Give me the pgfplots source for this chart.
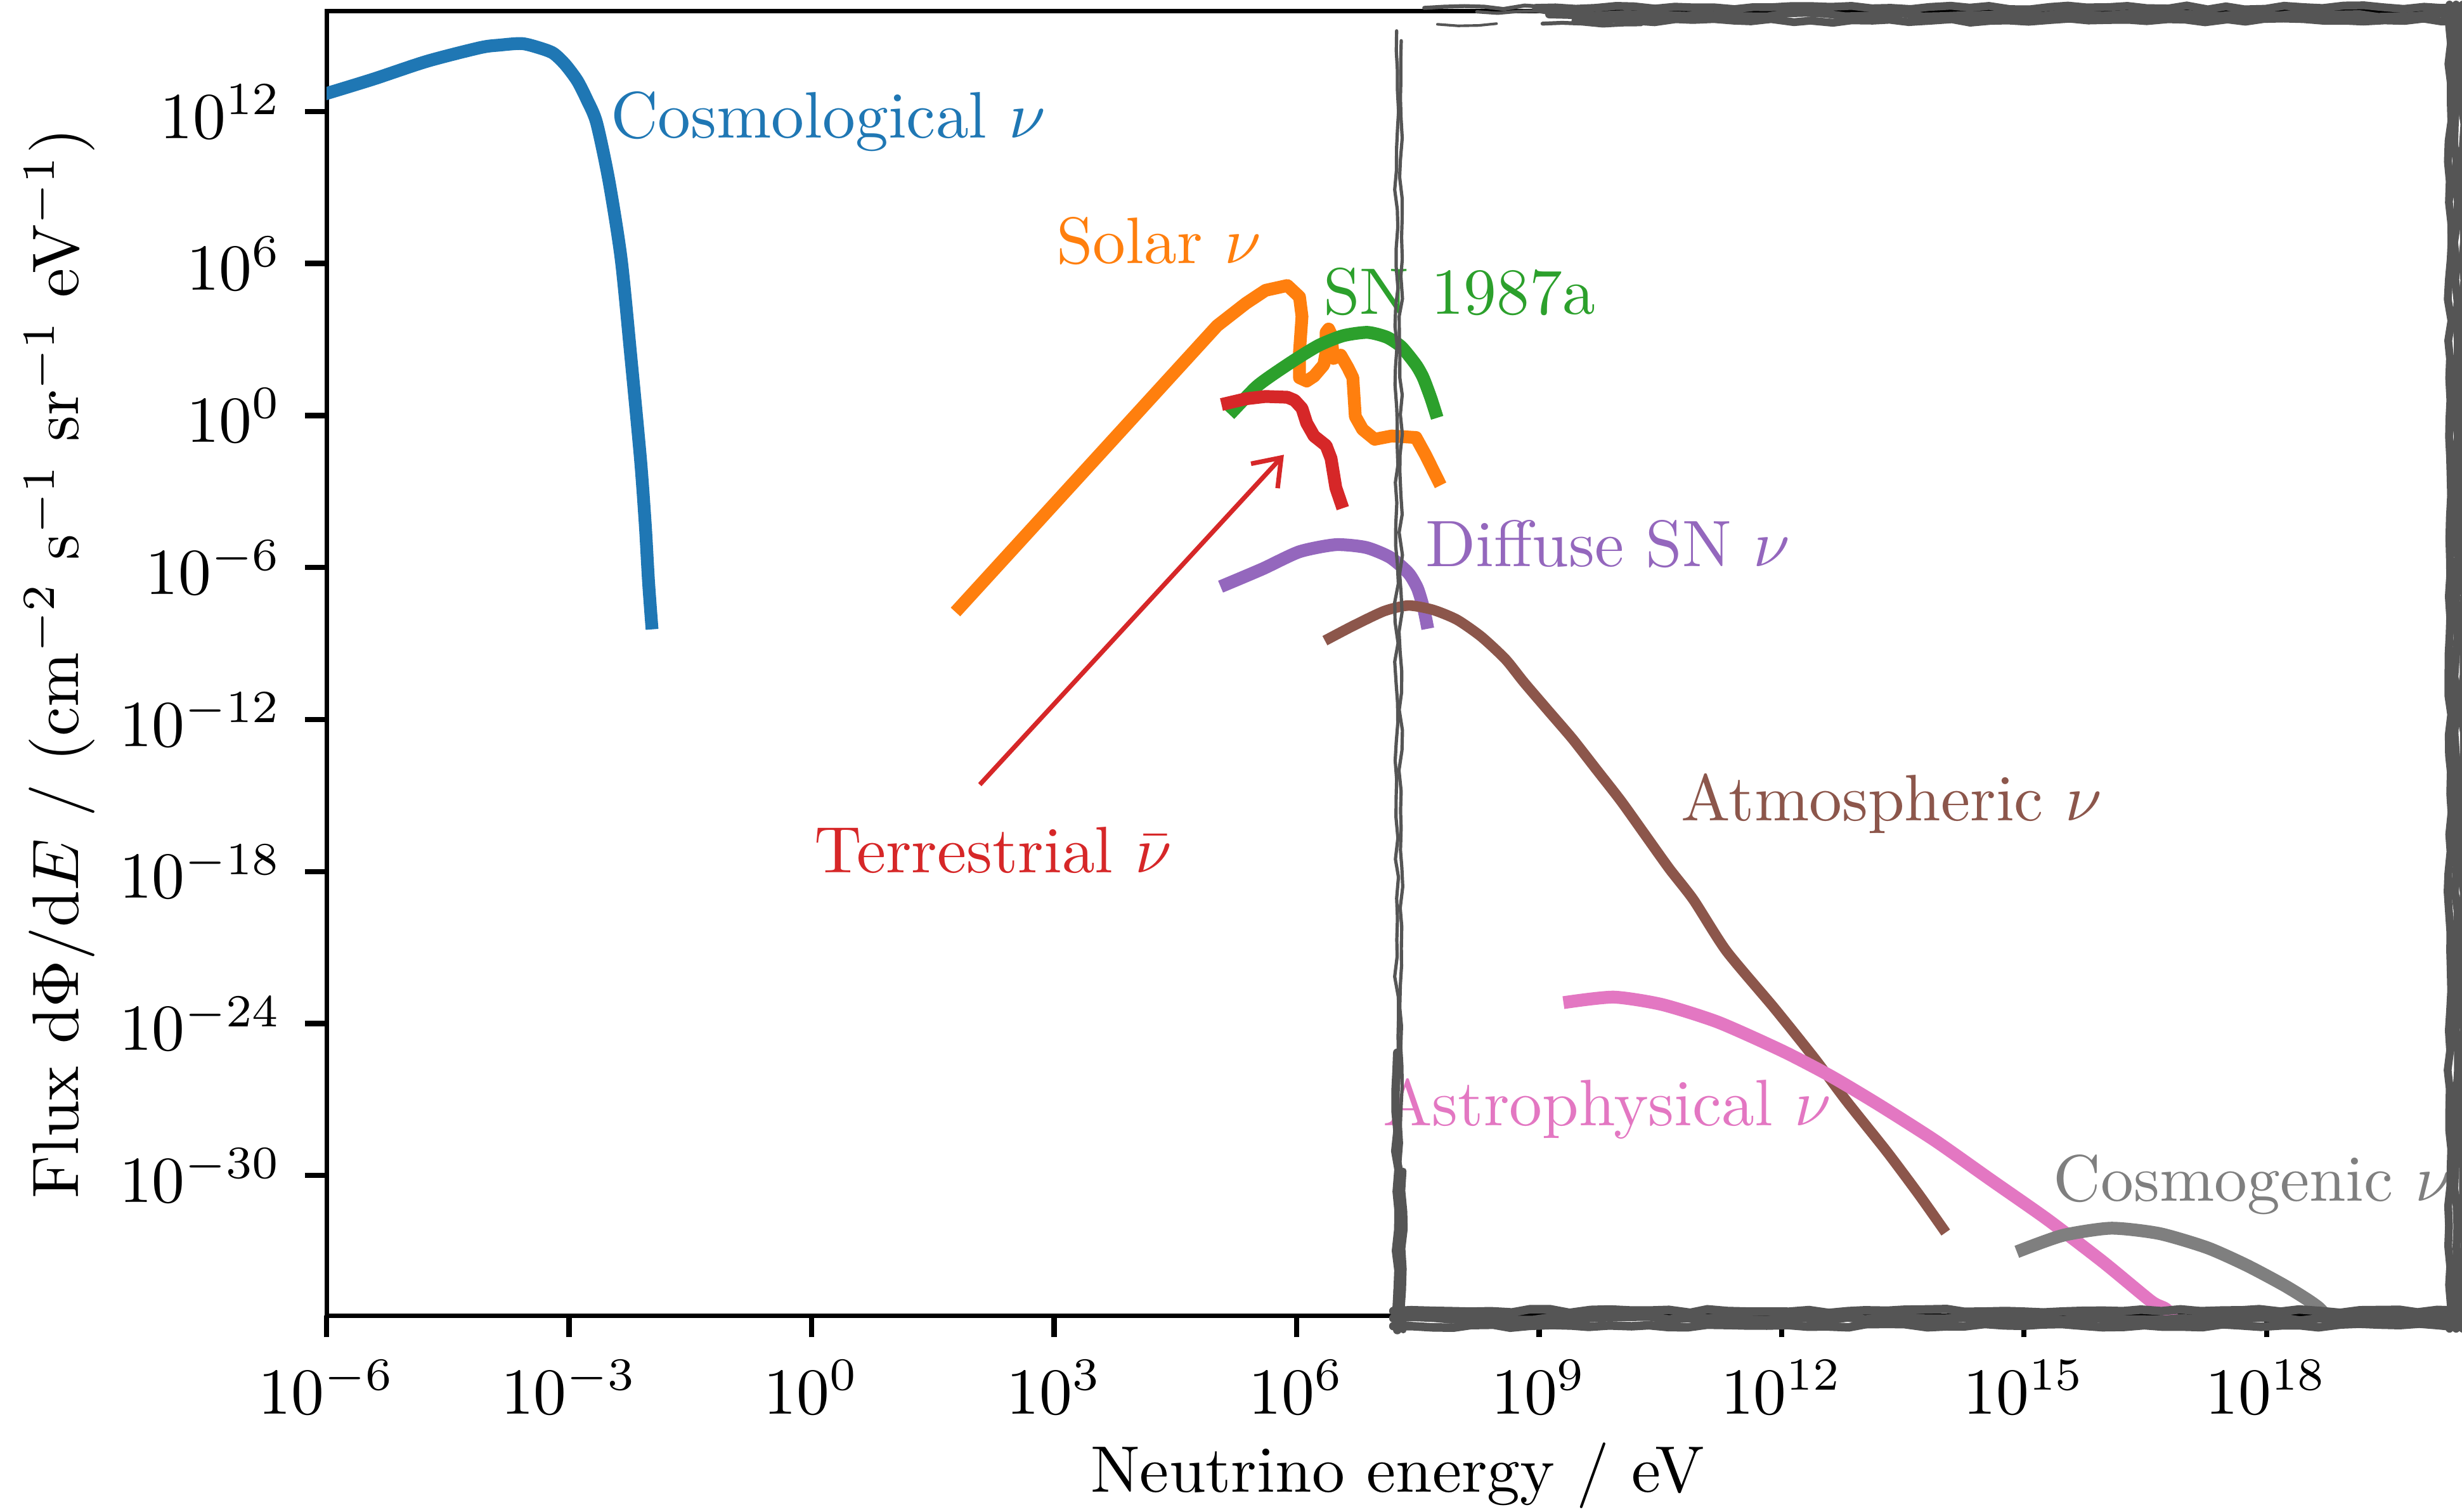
\documentclass[border=0pt]{standalone}
\usepackage{pgfplots}
\pgfplotsset{compat=1.18}
\usetikzlibrary{arrows.meta,decorations.pathmorphing}
\definecolor{c0}{HTML}{1F77B4}
\definecolor{c1}{HTML}{FF7F0E}
\definecolor{c2}{HTML}{2CA02C}
\definecolor{c3}{HTML}{D62728}
\definecolor{c4}{HTML}{9467BD}
\definecolor{c5}{HTML}{8C564B}
\definecolor{c6}{HTML}{E377C2}
\definecolor{c7}{HTML}{7F7F7F}
\definecolor{boxgray}{HTML}{555555}
\begin{document}
\begin{tikzpicture}
\pgfmathsetseed{7}
\begin{axis}[
  scale only axis, width=325.9pt, height=198.5pt,
  xmode=log, ymode=log,
  xmin=1e-6, xmax=3.162e20, ymin=2.95e-36, ymax=9.1e15,
  xtick={1e-6,1e-3,1,1e3,1e6,1e9,1e12,1e15,1e18},
  ytick={1e-30,1e-24,1e-18,1e-12,1e-6,1,1e6,1e12},
  xminorticks=false, yminorticks=false,
  tick align=outside, xtick pos=left, ytick pos=left,
  major tick length=3.3pt,
  every tick/.style={black, line width=0.8pt},
  axis line style={line width=0.7pt},
  xlabel={Neutrino energy / eV},
  ylabel={Flux $\mathrm{d}\Phi/\mathrm{d}E$ / (cm$^{-2}$ s$^{-1}$ sr$^{-1}$ eV$^{-1}$)},
  xlabel style={at={(axis description cs:0.5,-0.1224)}, anchor=center},
  ylabel style={at={(axis description cs:-0.1246,0.5)}, anchor=center},
  clip mode=individual,
  every axis plot/.append style={line width=1.95pt, line cap=rect, line join=round, mark=none},
]
% Cosmological
\addplot[c0, smooth, tension=0.45] coordinates {
(1e-6,5.13e12) (3.81e-6,1.905e13) (1.742e-5,9.55e13) (7.98e-5,3.31e14)
(1.39e-4,4.17e14) (2.59e-4,4.79e14) (4.19e-4,3.31e14) (6.35e-4,2.0e14)
(8.97e-4,7.08e13) (1.265e-3,1.62e13) (1.67e-3,2.82e12) (2.19e-3,3.55e11)
(3.11e-3,1.82e9) (4.40e-3,1.55e6) (5.79e-3,2.29e2) (7.64e-3,1.905e-2)
(8.77e-3,4.47e-5) (9.59e-3,3.02e-7) (1.047e-2,6.46e-9)};
% Solar
\addplot[c1] coordinates {
(68.2,2.69e-8) (1.04e5,3.47e3) (2.37e5,2.69e4) (4.13e5,8.71e4) (7.69e5,1.35e5)
(1.087e6,4.79e4) (1.167e6,8.13e3) (1.087e6,3.24e2) (1.087e6,30.9) (1.334e6,22.9)
(1.644e6,35.5) (2.17e6,100) (2.32e6,324) (2.32e6,1.905e3) (2.49e6,2.57e3)
(2.67e6,1.62e3) (2.86e6,178) (3.52e6,240) (4.33e6,75.9) (4.97e6,30.9)
(5.33e6,0.912) (6.56e6,0.282) (9.25e6,0.115) (1.50e7,0.155) (3.00e7,0.135)
(3.96e7,0.0269) (5.58e7,2.95e-3)};
% SN 1987a
\addplot[c2, smooth, tension=0.4] coordinates {
(1.683e5,1.66) (3.13e5,12.9) (4.75e5,35.5) (9.46e5,155) (1.89e6,589)
(3.77e6,1.41e3) (7.53e6,1.905e3) (1.306e7,1.23e3) (1.98e7,513) (3.0e7,100)
(3.69e7,30.9) (4.55e7,5.25) (5.2e7,1.41)};
% Terrestrial
\addplot[c3] coordinates {
(1.406e5,3.09) (2.37e5,4.57) (4.13e5,5.62) (7.69e5,5.25) (9.46e5,3.98)
(1.167e6,1.905) (1.334e6,0.501) (1.644e6,0.155) (2.32e6,0.0646) (2.67e6,0.0200)
(3.06e6,1.41e-3) (3.52e6,3.8e-4)};
% Diffuse SN
\addplot[c4, smooth, tension=0.4] coordinates {
(1.358e5,2.19e-7) (3.83e5,8.91e-7) (1.081e6,4.17e-6) (3.04e6,7.94e-6)
(7.23e6,6.17e-6) (1.439e7,2.51e-6) (2.42e7,6.03e-7) (3.14e7,1.48e-7)
(3.73e7,2.45e-8) (4.06e7,6.76e-9)};
% Atmospheric
\addplot[c5, line width=1.6pt, smooth, tension=0.4] coordinates {
(2.56e6,1.62e-9) (5.11e6,5.13e-9) (1.216e7,1.905e-8) (2.42e7,3.16e-8)
(4.84e7,2.14e-8) (9.64e7,8.71e-9) (1.93e8,1.86e-9) (3.84e8,2.40e-10)
(6.46e8,3.02e-11) (1.29e9,2.29e-12) (2.57e9,1.78e-13) (5.14e9,1.05e-14)
(1.028e10,6.17e-16) (2.05e10,2.82e-17) (4.09e10,1.29e-18) (8.15e10,7.59e-20)
(2.07e11,7.41e-22) (8.13e11,4.07e-24) (2.55e12,4.27e-26) (6.37e12,8.71e-28)
(1.99e13,9.12e-30) (4.95e13,1.86e-31) (9.86e13,8.32e-33)};
% Astrophysical
\addplot[c6, smooth, tension=0.4] coordinates {
(2.40e9,7.24e-24) (8.45e9,1.10e-23) (3.32e10,5.62e-24) (1.65e11,1.12e-24)
(1.021e12,8.32e-26) (4.03e12,8.51e-27) (1.585e13,6.31e-28) (7.85e13,2.45e-29)
(3.88e14,6.76e-31) (1.92e15,1.905e-32) (9.5e15,3.89e-34) (3.75e16,1.07e-35)
(5.92e16,4.79e-36) (9.12e16,5.01e-37)};
% Cosmogenic
\addplot[c7, smooth, tension=0.4] coordinates {
(9.66e14,1.20e-33) (3.05e15,4.37e-33) (1.194e16,8.32e-33) (4.71e16,5.13e-33)
(1.854e17,1.41e-33) (5.82e17,2.75e-34) (1.82e18,3.89e-35) (4.54e18,5.62e-36)
(7.94e18,5.01e-37)};
% arrow
\draw[c3, line width=0.7pt, -{Straight Barb[length=3.8pt,width=5.5pt]}] (axis cs:120.5,2.69e-15) -- (axis cs:6.97e5,0.0282);
% labels
\node[anchor=base west, inner sep=0pt, text=c0] at (axis cs:3.14e-3,8.9e10) {Cosmological $\nu$};
\node[anchor=base west, inner sep=0pt, text=c1] at (axis cs:1.03e3,1e6) {Solar $\nu$};
\node[anchor=base west, inner sep=0pt, text=c2] at (axis cs:2.07e6,1.02e4) {SN 1987a};
\node[anchor=base west, inner sep=0pt, text=c3] at (axis cs:1.05,9.1e-19) {Terrestrial $\bar{\nu}$};
\node[anchor=base west, inner sep=0pt, text=c4] at (axis cs:3.79e7,1.1e-6) {Diffuse SN $\nu$};
\node[anchor=base west, inner sep=0pt, text=c5] at (axis cs:5.56e10,1e-16) {Atmospheric $\nu$};
\node[anchor=base west, inner sep=0pt, text=c6] at (axis cs:1.13e7,9.5e-29) {Astrophysical $\nu$};
\node[anchor=base west, inner sep=0pt, text=c7] at (axis cs:2.23e15,1.0e-31) {Cosmogenic $\nu$};
\end{axis}
% sketchy highlight box
\begin{scope}[boxgray, line cap=round, decoration={random steps, segment length=3pt, amplitude=0.3pt}]
 % top band
 \draw[line width=1.2pt, decorate] (184pt,199.0pt) -- (326pt,199.1pt);
 \draw[line width=1.2pt, decorate] (186pt,198.0pt) -- (326pt,197.9pt);
 \draw[line width=1.2pt, decorate] (190pt,197.0pt) -- (326pt,197.1pt);
 \draw[line width=0.6pt, decorate] (167pt,199.0pt) -- (186pt,199.1pt);
 \draw[line width=0.5pt, decorate] (175pt,198.4pt) -- (192pt,198.3pt);
 \draw[line width=0.4pt, decorate] (169pt,196.5pt) -- (178pt,196.6pt);
 \draw[line width=0.6pt, decorate] (185pt,196.6pt) -- (200pt,196.5pt);
 % bottom band
 \draw[line width=1.3pt, decorate] (162.3pt,0.7pt) -- (326pt,0.7pt);
 \draw[line width=1.3pt, decorate] (162.3pt,-0.4pt) -- (326pt,-0.5pt);
 \draw[line width=1.3pt, decorate] (162.3pt,-1.6pt) -- (326pt,-1.5pt);
 % left side
 \draw[line width=0.5pt, decorate] (162.8pt,195.5pt) -- (162.8pt,-2pt);
 \draw[line width=0.5pt, decorate] (163.5pt,194pt) -- (163.4pt,-1.5pt);
 \draw[line width=1.3pt, decorate] (162.9pt,40pt) -- (162.9pt,-2.2pt);
 \draw[line width=1.0pt, decorate] (163.8pt,22pt) -- (163.8pt,-2.2pt);
 % right side
 \draw[line width=1.2pt, decorate] (323.0pt,199.5pt) -- (323.0pt,-2pt);
 \draw[line width=1.2pt, decorate] (324.0pt,199.5pt) -- (324.0pt,-2pt);
 \draw[line width=1.2pt, decorate] (325.0pt,199.5pt) -- (325.0pt,-2pt);
\end{scope}
\pgfresetboundingbox
\useasboundingbox (-49.7pt,-29.8pt) rectangle (324.9pt,200.2pt);
\end{tikzpicture}
\end{document}
